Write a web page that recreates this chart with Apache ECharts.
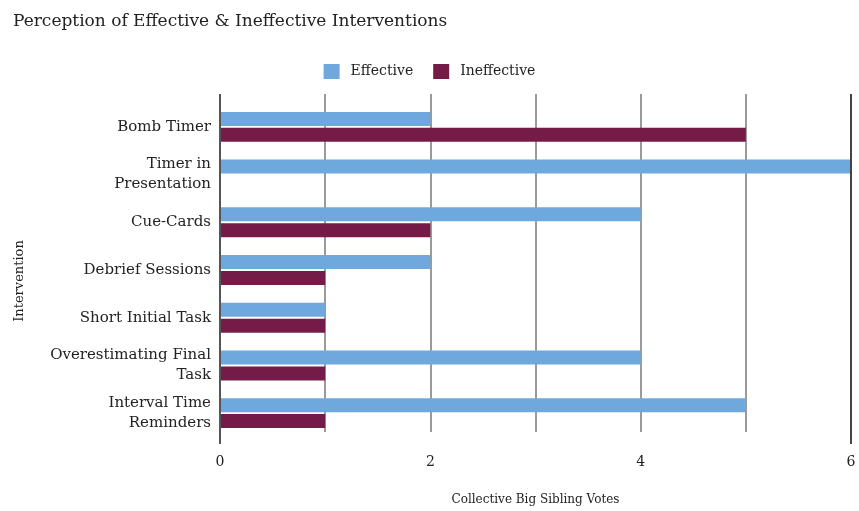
<!DOCTYPE html>
<html>
<head>
<meta charset="utf-8">
<script src="https://cdn.jsdelivr.net/npm/echarts@6/dist/echarts.min.js"></script>
<style>
  html, body { margin: 0; padding: 0; background: #fff; }
  #chart { width: 859px; height: 511px; }
</style>
</head>
<body>
<div id="chart"></div>
<script>
// Interventions, listed top to bottom
const categories = [
  'Bomb Timer',
  'Timer in\nPresentation',
  'Cue-Cards',
  'Debrief Sessions',
  'Short Initial Task',
  'Overestimating Final\nTask',
  'Interval Time\nReminders'
];
const effectiveVotes   = [2, 6, 4, 2, 1, 4, 5];
const ineffectiveVotes = [5, 0, 2, 1, 1, 1, 1];
const xTickValues = [0, 2, 4, 6];

const FONT = 'DejaVu Serif';
const TEXT = '#222';

const chart = echarts.init(document.getElementById('chart'));
chart.setOption({
  animation: false,
  textStyle: { fontFamily: FONT },
  title: {
    text: 'Perception of Effective & Ineffective Interventions',
    left: 8, top: 8,
    textStyle: { fontFamily: FONT, fontSize: 17, fontWeight: 'normal', color: TEXT }
  },
  legend: {
    top: 59, left: 'center',
    itemWidth: 16, itemHeight: 15, itemGap: 20,
    icon: 'rect',
    textStyle: { fontFamily: FONT, fontSize: 14, color: TEXT, padding: [0, 0, 0, 6] },
    data: ['Effective', 'Ineffective']
  },
  grid: [
    // outer grid: carries the vertical guide lines, slightly taller than the bars area
    { left: 220, right: 8, top: 94, bottom: 67 },
    // inner grid: the bars
    { left: 220, right: 8, top: 103, bottom: 74 }
  ],
  xAxis: [
    {
      gridIndex: 0, type: 'value', min: 0, max: 6, interval: 1,
      axisLine: { show: false }, axisTick: { show: false },
      splitLine: { show: true, lineStyle: { color: '#9a9a9a', width: 2 } },
      axisLabel: {
        margin: 23, fontFamily: FONT, fontSize: 14, color: TEXT,
        formatter: v => xTickValues.includes(v) ? String(v) : ''
      },
      name: 'Collective Big Sibling Votes', nameLocation: 'middle', nameGap: 62,
      nameTextStyle: { fontFamily: FONT, fontSize: 12, color: TEXT }
    },
    {
      gridIndex: 1, type: 'value', min: 0, max: 6, interval: 1,
      axisLine: { show: false }, axisTick: { show: false },
      splitLine: { show: false }, axisLabel: { show: false }
    }
  ],
  yAxis: [
    {
      gridIndex: 0, type: 'value', show: false
    },
    {
      gridIndex: 1, type: 'category', inverse: true, data: categories,
      axisLine: { show: false }, axisTick: { show: false },
      axisLabel: { margin: 9, fontFamily: FONT, fontSize: 15, color: TEXT, lineHeight: 20, align: 'right' }
    }
  ],
  graphic: [
    { type: 'line', shape: { x1: 220, y1: 94, x2: 220, y2: 444 }, style: { stroke: '#555', lineWidth: 2 }, z: 10 },
    { type: 'line', shape: { x1: 851, y1: 94, x2: 851, y2: 444 }, style: { stroke: '#444', lineWidth: 2 }, z: 10 },
    {
      type: 'text', x: 20, y: 281, rotation: Math.PI / 2,
      style: {
        text: 'Intervention', font: '13px "DejaVu Serif"', fill: TEXT,
        textAlign: 'center', textVerticalAlign: 'middle'
      }
    }
  ],
  series: [
    {
      name: 'Effective', type: 'bar', xAxisIndex: 1, yAxisIndex: 1,
      data: effectiveVotes, barWidth: 14, barGap: '14%',
      itemStyle: { color: '#6fa8dc' }
    },
    {
      name: 'Ineffective', type: 'bar', xAxisIndex: 1, yAxisIndex: 1,
      data: ineffectiveVotes, barWidth: 14, barGap: '14%',
      itemStyle: { color: '#741b47' }
    }
  ]
});
</script>
</body>
</html>
